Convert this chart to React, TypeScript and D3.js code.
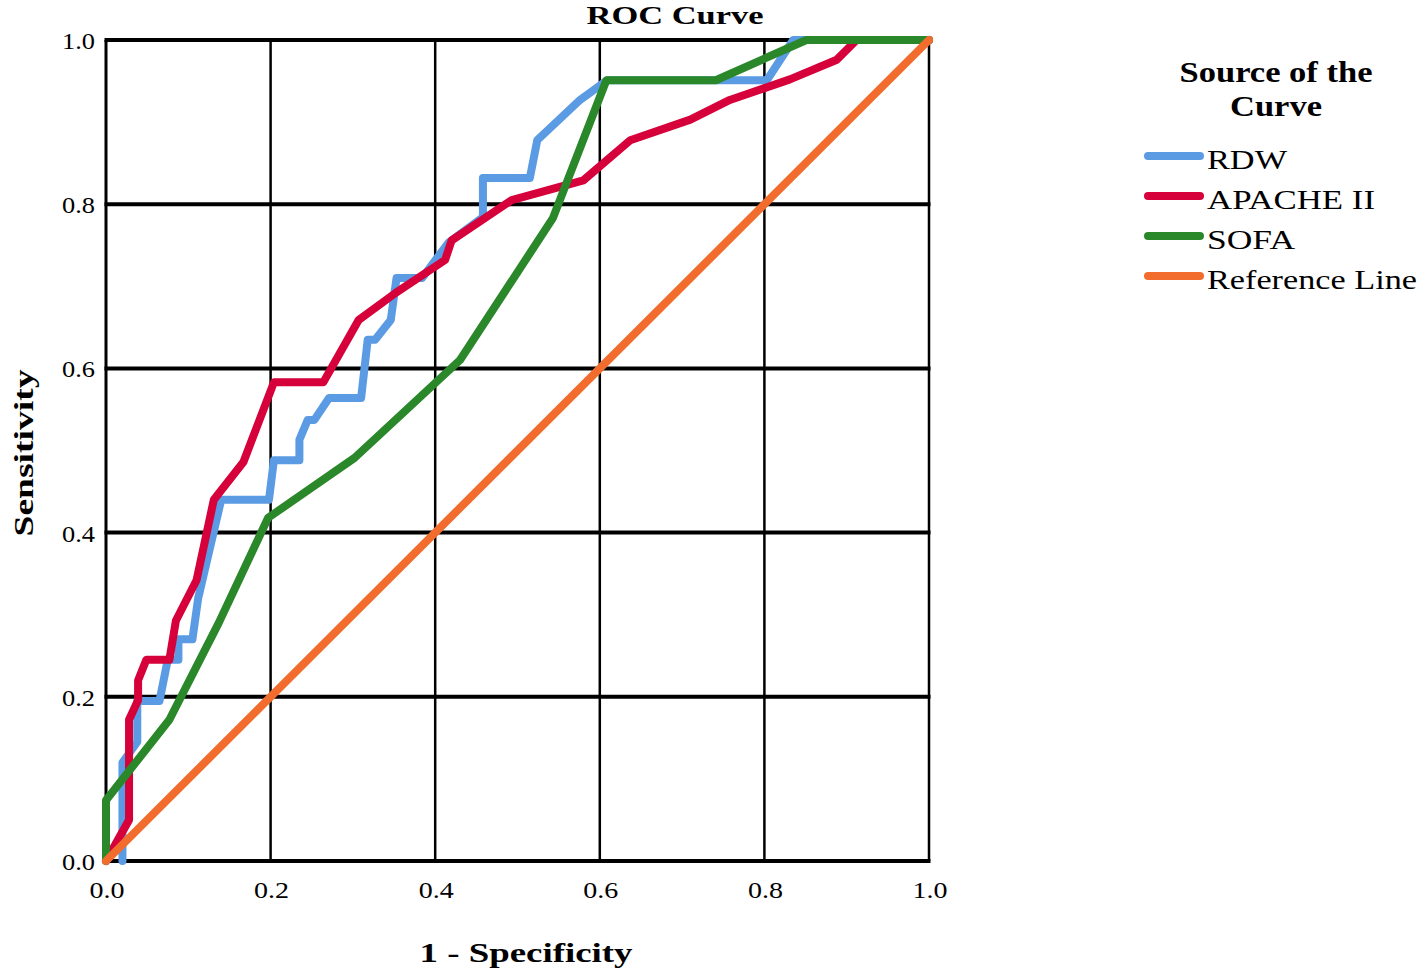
import React from 'react';
import * as d3 from 'd3';

// ROC curve values (1 - specificity, sensitivity)
const rdwX = [0.02, 0.02, 0.038, 0.038, 0.065, 0.075, 0.088, 0.088, 0.105, 0.112, 0.14, 0.198, 0.204, 0.235, 0.235, 0.245, 0.253, 0.271, 0.31, 0.318, 0.327, 0.346, 0.353, 0.384, 0.416, 0.458, 0.458, 0.515, 0.524, 0.576, 0.609, 0.803, 0.835, 1.0];
const rdwY = [0, 0.12, 0.145, 0.195, 0.195, 0.245, 0.245, 0.27, 0.27, 0.32, 0.44, 0.44, 0.488, 0.488, 0.513, 0.537, 0.537, 0.564, 0.564, 0.635, 0.635, 0.659, 0.71, 0.71, 0.753, 0.784, 0.832, 0.832, 0.878, 0.927, 0.951, 0.951, 1.0, 1.0];

const apacheX = [0.0, 0.028, 0.028, 0.039, 0.039, 0.049, 0.077, 0.085, 0.11, 0.131, 0.167, 0.204, 0.264, 0.307, 0.352, 0.412, 0.42, 0.493, 0.58, 0.637, 0.71, 0.758, 0.831, 0.888, 0.912, 1.0];
const apacheY = [0.0, 0.05, 0.172, 0.196, 0.22, 0.245, 0.245, 0.293, 0.342, 0.44, 0.486, 0.583, 0.583, 0.659, 0.692, 0.732, 0.756, 0.805, 0.829, 0.878, 0.903, 0.927, 0.952, 0.976, 1.0, 1.0];

const sofaX = [0, 0, 0.077, 0.137, 0.197, 0.302, 0.43, 0.543, 0.608, 0.741, 0.851, 1.0];
const sofaY = [0, 0.074, 0.172, 0.29, 0.418, 0.491, 0.61, 0.783, 0.951, 0.951, 1.0, 1.0];

const refX = [0, 1];
const refY = [0, 1];

const tickValues = [0, 0.2, 0.4, 0.6, 0.8, 1.0];
const seriesNames = ['RDW', 'APACHE II', 'SOFA', 'Reference Line'];
const seriesColors = ['#5a9be4', '#d6003a', '#2a882a', '#f26c2e'];

const W = 1418;
const H = 971;
const FONT = "'Liberation Serif', Tinos, 'Times New Roman', 'DejaVu Serif', serif";

type Pt = { x: number; y: number };
const zip = (xs: number[], ys: number[]): Pt[] => xs.map((x, i) => ({ x, y: ys[i] }));

export default function App() {
  const x = d3.scaleLinear().domain([0, 1]).range([106, 929]);
  const y = d3.scaleLinear().domain([0, 1]).range([861, 40]);

  const line = d3.line<Pt>().x(d => x(d.x)).y(d => y(d.y));

  const series = [
    zip(rdwX, rdwY),
    zip(apacheX, apacheY),
    zip(sofaX, sofaY),
    zip(refX, refY),
  ];

  const txt = { fontFamily: FONT, fill: '#000' };

  return (
    <div style={{ position: 'absolute', left: 0, top: 0 }}>
      <svg width={W} height={H} style={{ display: 'block', background: '#fff' }}>
        {/* title */}
        <text x={675} y={24} textAnchor="middle" fontSize={26} fontWeight="bold" style={txt}
          textLength={177} lengthAdjust="spacingAndGlyphs">ROC Curve</text>

        {/* grid */}
        {tickValues.map(t => (
          <line key={'h' + t} x1={x(0) - 1.5} x2={x(1) + 1.5} y1={y(t)} y2={y(t)} stroke="#000" strokeWidth={4} />
        ))}
        {tickValues.map(t => (
          <line key={'v' + t} x1={x(t)} x2={x(t)} y1={y(1)} y2={y(0)} stroke="#000" strokeWidth={t === 0 ? 3 : 2.5} />
        ))}

        {/* tick labels */}
        {tickValues.map(t => (
          <text key={'yl' + t} x={95} y={y(t) + 9} textAnchor="end" fontSize={23} style={txt}
            textLength={33} lengthAdjust="spacingAndGlyphs">{t.toFixed(1)}</text>
        ))}
        {tickValues.map(t => (
          <text key={'xl' + t} x={x(t) + 1} y={898} textAnchor="middle" fontSize={23} style={txt}
            textLength={35} lengthAdjust="spacingAndGlyphs">{t.toFixed(1)}</text>
        ))}

        {/* curves */}
        {series.map((s, i) => (
          <path key={seriesNames[i]} d={line(s) || ''} fill="none" stroke={seriesColors[i]}
            strokeWidth={8} strokeLinejoin="round" strokeLinecap="round" />
        ))}

        {/* axis titles */}
        <text x={526} y={962} textAnchor="middle" fontSize={28} fontWeight="bold" style={txt}
          textLength={213} lengthAdjust="spacingAndGlyphs">1 - Specificity</text>
        <text transform={`translate(33,453) rotate(-90)`} textAnchor="middle" fontSize={28} fontWeight="bold" style={txt}
          textLength={167} lengthAdjust="spacingAndGlyphs">Sensitivity</text>

        {/* legend */}
        <text x={1276} y={82} textAnchor="middle" fontSize={29} fontWeight="bold" style={txt}
          textLength={193} lengthAdjust="spacingAndGlyphs">Source of the</text>
        <text x={1276} y={116} textAnchor="middle" fontSize={29} fontWeight="bold" style={txt}
          textLength={92} lengthAdjust="spacingAndGlyphs">Curve</text>
        {seriesNames.map((name, i) => {
          const ly = 156 + i * 40;
          return (
            <g key={'lg' + name}>
              <line x1={1148} x2={1200} y1={ly} y2={ly} stroke={seriesColors[i]} strokeWidth={8} strokeLinecap="round" />
              <text x={1207} y={ly + 13} fontSize={28} style={txt}
                textLength={[80, 168, 88, 210][i]} lengthAdjust="spacingAndGlyphs">{name}</text>
            </g>
          );
        })}
      </svg>
    </div>
  );
}
